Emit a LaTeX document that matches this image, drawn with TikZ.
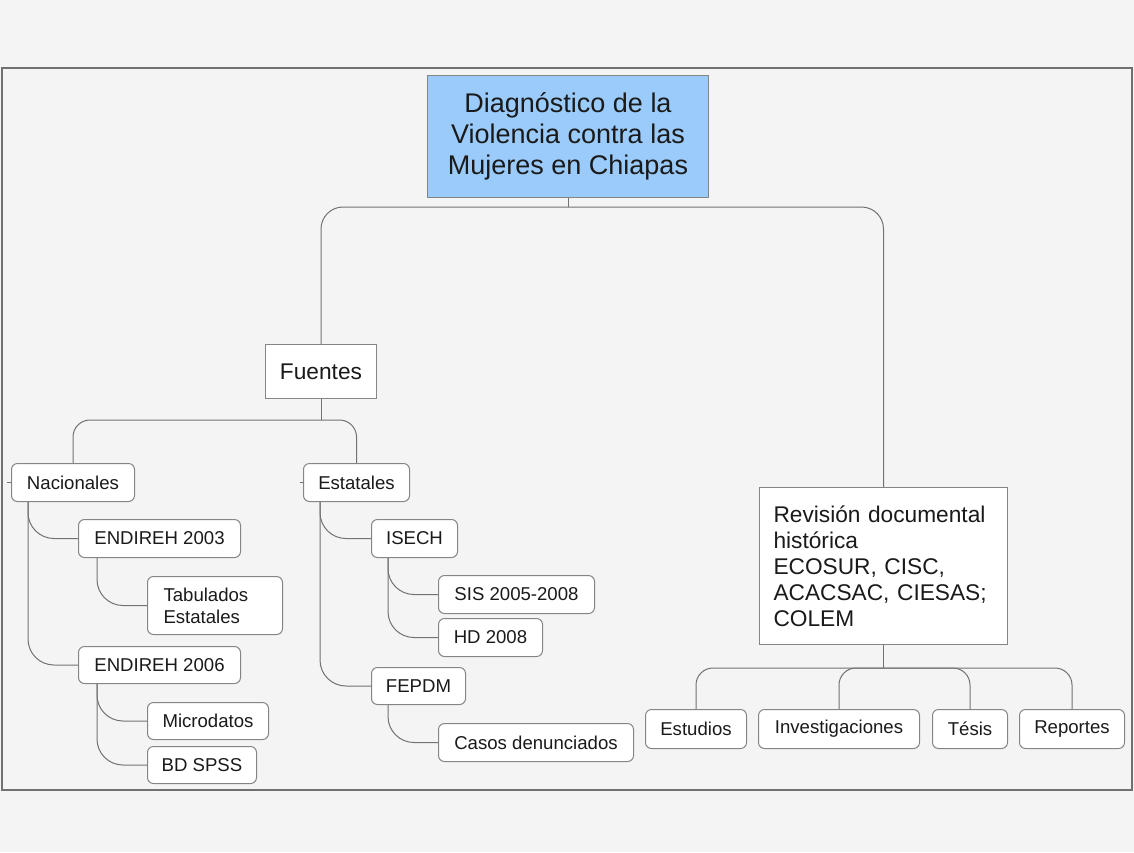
\documentclass[tikz,border=0pt]{standalone}
\usepackage{fontspec}
\setmainfont{Liberation Sans}
\definecolor{bgcol}{HTML}{F4F4F4}
\definecolor{framecol}{HTML}{707070}
\definecolor{bordcol}{HTML}{858585}
\definecolor{linecol}{HTML}{727272}
\definecolor{txtcol}{HTML}{1A1A1A}
\definecolor{rootfill}{HTML}{9BCBFA}
\tikzset{
  base/.style={draw=bordcol, line width=1pt, fill=white, text=txtcol, anchor=north west, inner sep=0pt},
  rootbox/.style={base, fill=rootfill, align=center, font=\fontsize{27}{31}\selectfont},
  mainbox/.style={base, align=left, font=\fontsize{22.7}{26}\selectfont},
  leaf/.style={base, rounded corners=6pt, align=left, font=\fontsize{18.6}{22}\selectfont},
  conn/.style={draw=linecol, line width=1pt},
}
\begin{document}
\begin{tikzpicture}[x=1pt,y=-1pt]
\useasboundingbox (0,0) rectangle (1134,852);
\fill[bgcol] (0,0) rectangle (1134,852);
\draw[framecol, line width=1.1pt] (2,68) rectangle (1132,790);

% nodes
\node[rootbox, minimum width=281pt, minimum height=122pt] (root) at (427,75) {Diagnóstico de la\\Violencia contra las\\Mujeres en Chiapas};
\node[mainbox, minimum width=111pt, minimum height=54pt] (fuentes) at (265,344) {Fuentes};
\node[mainbox, text width=220pt, inner xsep=14pt, minimum height=157pt] (rev) at (759,487) {Revisión documental\\histórica\\ECOSUR, CISC,\\ACACSAC, CIESAS;\\COLEM};

\node[leaf, minimum width=123pt, minimum height=38pt] (nac) at (11,463) {Nacionales};
\node[leaf, minimum width=106pt, minimum height=38pt] (est) at (303,463) {Estatales};
\node[leaf, minimum width=162pt, minimum height=38pt] (e03) at (78,519) {ENDIREH 2003};
\node[leaf, text width=103pt, inner xsep=16pt, minimum height=58pt] (tab) at (147,576) {Tabulados\\Estatales};
\node[leaf, minimum width=162pt, minimum height=37pt] (e06) at (78,646) {ENDIREH 2006};
\node[leaf, minimum width=121pt, minimum height=37pt] (micro) at (147,702) {Microdatos};
\node[leaf, minimum width=109pt, minimum height=37pt] (spss) at (147,746) {BD SPSS};
\node[leaf, minimum width=86pt, minimum height=38pt] (isech) at (371,519) {ISECH};
\node[leaf, minimum width=156pt, minimum height=38pt] (sis) at (438,575) {SIS 2005-2008};
\node[leaf, minimum width=104pt, minimum height=38pt] (hd) at (438,618) {HD 2008};
\node[leaf, minimum width=94pt, minimum height=37pt] (fepdm) at (371,667) {FEPDM};
\node[leaf, minimum width=195pt, minimum height=38pt] (casos) at (438,723) {Casos denunciados};

\node[leaf, minimum width=101pt, minimum height=39pt] (estud) at (645,709) {Estudios};
\node[leaf, minimum width=161pt, minimum height=39pt] (inv) at (758,709) {Investigaciones};
\node[leaf, minimum width=75pt, minimum height=39pt] (tesis) at (932,709) {Tésis};
\node[leaf, minimum width=105pt, minimum height=39pt] (rep) at (1019,709) {Reportes};

% bus levels
\coordinate (rbus) at (0,207);
\coordinate (fbus) at (0,420);
\coordinate (vbus) at (0,668);

% root fork
\draw[conn] (root.south) -- (root.south |- rbus);
\draw[conn, rounded corners=22pt] (fuentes.north) |- (root.south |- rbus) -| (rev.north);

% fuentes fork
\draw[conn] (fuentes.south) -- (fuentes.south |- fbus);
\draw[conn, rounded corners=17pt] (nac.north) |- (fuentes.south |- fbus) -| (est.north);
\draw[conn] (nac.west) -- ++(-4,0);
\draw[conn] (est.west) -- ++(-3,0);

% nacionales
\draw[conn, rounded corners=26pt] ([xshift=17pt]nac.south west) |- (e03.west);
\draw[conn, rounded corners=26pt] ([xshift=17pt]nac.south west) |- (e06.west);
\draw[conn, rounded corners=26pt] ([xshift=19pt]e03.south west) |- (tab.west);
\draw[conn, rounded corners=26pt] ([xshift=19pt]e06.south west) |- (micro.west);
\draw[conn, rounded corners=26pt] ([xshift=19pt]e06.south west) |- (spss.west);

% estatales
\draw[conn, rounded corners=26pt] ([xshift=17pt]est.south west) |- (isech.west);
\draw[conn, rounded corners=26pt] ([xshift=17pt]est.south west) |- (fepdm.west);
\draw[conn, rounded corners=26pt] ([xshift=17pt]isech.south west) |- (sis.west);
\draw[conn, rounded corners=26pt] ([xshift=17pt]isech.south west) |- (hd.west);
\draw[conn, rounded corners=26pt] ([xshift=17pt]fepdm.south west) |- (casos.west);

% revision fork
\draw[conn] (rev.south) -- (rev.south |- vbus);
\draw[conn, rounded corners=17pt] (estud.north) |- (rev.south |- vbus) -| (rep.north);
\draw[conn, rounded corners=17pt] (inv.north) |- (rev.south |- vbus) -| (tesis.north);
\end{tikzpicture}
\end{document}
